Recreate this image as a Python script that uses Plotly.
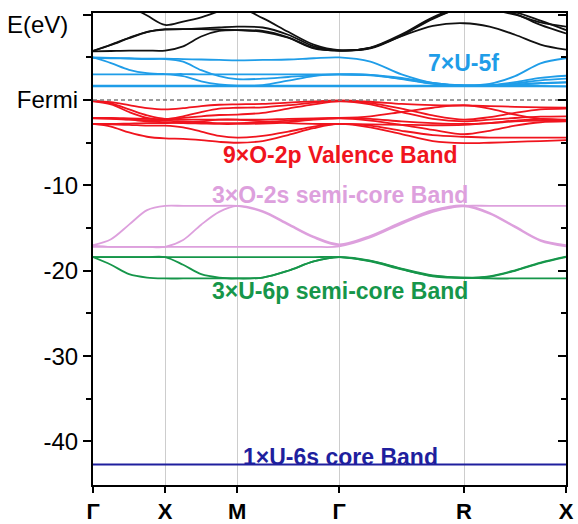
import plotly.graph_objects as go

# ---- k-path (simple cubic Brillouin zone) ----
path_labels = ["Γ", "X", "M", "Γ", "R", "X"]
segment_lengths = [0.5, 0.5, 0.7071, 0.8660, 0.7071]
samples_per_segment = 4

# ---- band energies (eV) at 21 k-points: Γ ... X ... M ... Γ ... R ... X ----
# conduction bands above the 5f manifold
black_1 = [5.7, 5.75, 5.8, 5.8, 5.8, 6.3, 7.45, 8.1, 8.2, 8.1, 7.35, 6.1, 5.8, 6.1, 7.5, 8.7, 9.0, 8.6, 7.65, 6.5, 5.9]
black_2 = [5.75, 6.5, 7.3, 8.0, 8.25, 8.3, 8.4, 8.5, 8.6, 8.5, 7.65, 6.3, 5.8, 6.1, 7.6, 9.6, 10.8, 10.6, 10.0, 9.1, 8.6]
black_3 = [5.75, 6.45, 7.25, 7.95, 8.3, 8.3, 8.3, 8.25, 8.2, 8.0, 7.3, 6.05, 5.8, 6.05, 7.55, 9.5, 10.9, 10.8, 10.3, 9.3, 8.2]
black_4 = [12.0, 11.6, 11.0, 9.9, 8.8, 9.2, 9.7, 10.4, 10.9, 9.6, 8.0, 6.5, 5.85, 6.15, 7.7, 9.7, 11.0, 10.7, 10.1, 8.8, 7.8]

# U-5f bands
f_1 = [5.0, 4.95, 4.9, 4.85, 4.85, 4.8, 4.75, 4.7, 4.65, 4.7, 4.75, 4.9, 5.0, 4.5, 3.0, 2.0, 1.75, 1.9, 2.8, 4.3, 4.9]
f_2 = [5.0, 4.33, 3.55, 3.15, 3.05, 3.05, 3.0, 3.0, 3.0, 3.0, 3.0, 3.0, 3.0, 2.9, 2.5, 1.95, 1.7, 1.75, 2.1, 2.6, 2.85]
f_3 = [3.0, 3.0, 3.0, 3.0, 3.0, 2.8, 2.2, 1.85, 1.7, 1.75, 2.27, 2.8, 3.0, 2.95, 2.45, 1.9, 1.7, 1.7, 1.95, 2.3, 2.5]
f_4 = [4.95, 4.9, 4.85, 4.8, 4.8, 4.5, 3.5, 2.8, 2.45, 2.5, 2.7, 2.9, 3.0, 2.95, 2.6, 2.0, 1.65, 1.65, 1.8, 2.0, 2.1]
f_5 = [1.7, 1.7, 1.7, 1.7, 1.7, 1.7, 1.7, 1.7, 1.7, 1.7, 1.7, 1.7, 1.7, 1.7, 1.7, 1.7, 1.7, 1.7, 1.7, 1.65, 1.6]
f_6 = [1.65, 1.65, 1.65, 1.65, 1.65, 1.65, 1.65, 1.65, 1.65, 1.65, 1.65, 1.65, 1.65, 1.65, 1.65, 1.65, 1.65, 1.7, 1.8, 1.95, 2.05]
f_7 = [1.6, 1.6, 1.6, 1.6, 1.6, 1.6, 1.6, 1.6, 1.6, 1.6, 1.6, 1.6, 1.6, 1.6, 1.6, 1.6, 1.6, 1.6, 1.6, 1.6, 1.6]

# O-2p valence bands
p_1 = [-0.1, -0.25, -0.6, -0.95, -1.1, -0.95, -0.7, -0.55, -0.5, -0.45, -0.3, -0.15, -0.05, -0.2, -0.45, -0.6, -0.65, -0.7, -0.8, -0.85, -0.9]
p_2 = [-0.1, -0.4, -1.1, -1.8, -2.2, -1.9, -1.4, -1.0, -0.9, -0.85, -0.6, -0.3, -0.1, -0.35, -1.0, -1.8, -2.3, -2.0, -1.5, -1.1, -1.0]
p_3 = [-0.15, -0.5, -1.4, -2.1, -2.35, -2.1, -1.9, -1.75, -1.7, -1.5, -1.0, -0.5, -0.15, -0.5, -1.4, -2.2, -2.5, -2.3, -2.1, -1.95, -1.9]
p_4 = [-2.1, -2.1, -2.15, -2.2, -2.25, -2.3, -2.3, -2.3, -2.3, -2.3, -2.2, -2.15, -2.1, -1.9, -1.4, -0.9, -0.6, -1.0, -1.7, -2.2, -2.35]
p_5 = [-2.1, -2.15, -2.25, -2.35, -2.4, -2.5, -2.6, -2.7, -2.7, -2.6, -2.4, -2.2, -2.1, -2.2, -2.5, -2.7, -2.8, -2.7, -2.5, -2.4, -2.4]
p_6 = [-2.15, -2.2, -2.3, -2.5, -2.6, -2.7, -2.75, -2.8, -2.8, -2.75, -2.6, -2.3, -2.15, -2.4, -2.9, -3.5, -4.0, -3.6, -3.0, -2.6, -2.5]
p_7 = [-2.8, -2.8, -2.75, -2.7, -2.7, -2.6, -2.5, -2.3, -2.3, -2.5, -2.7, -2.8, -2.8, -2.85, -2.9, -2.95, -2.9, -2.7, -2.4, -2.2, -2.3]
p_8 = [-2.8, -2.85, -2.9, -3.0, -3.0, -3.2, -3.7, -4.2, -4.4, -4.2, -3.7, -3.1, -2.8, -3.0, -3.6, -4.1, -4.3, -4.4, -4.4, -4.4, -4.4]
p_9 = [-2.8, -3.1, -3.8, -4.3, -4.5, -4.55, -4.7, -4.9, -5.0, -4.8, -4.1, -3.3, -2.8, -3.2, -4.0, -4.8, -5.05, -5.0, -4.9, -4.8, -4.7]

# O-2s semi-core bands
s_1 = [-17.0, -16.3, -14.6, -12.9, -12.4, -12.4, -12.4, -12.4, -12.4, -13.1, -14.6, -16.1, -17.0, -16.0, -14.4, -13.0, -12.4, -12.4, -12.4, -12.4, -12.4]
s_2 = [-17.05, -17.2, -17.2, -17.2, -17.2, -16.4, -14.6, -13.1, -12.4, -13.0, -14.5, -16.0, -16.9, -15.9, -14.3, -12.9, -12.35, -13.2, -14.8, -16.4, -17.0]
s_3 = [-17.2, -17.2, -17.2, -17.2, -17.2, -17.2, -17.2, -17.2, -17.2, -17.2, -17.2, -17.2, -17.15, -16.1, -14.5, -13.1, -12.45, -13.3, -14.9, -16.5, -17.15]

# U-6p semi-core bands
u_1 = [-18.4, -18.4, -18.4, -18.4, -18.4, -18.4, -18.4, -18.4, -18.4, -18.4, -18.4, -18.4, -18.4, -18.85, -19.8, -20.6, -20.8, -20.9, -20.9, -20.9, -20.9]
u_2 = [-18.4, -19.3, -20.4, -20.8, -20.9, -20.9, -20.9, -20.9, -20.9, -20.8, -20.0, -18.9, -18.4, -18.9, -19.85, -20.65, -20.85, -20.7, -20.0, -19.1, -18.4]
u_3 = [-18.4, -18.4, -18.4, -18.4, -18.4, -19.3, -20.4, -20.8, -20.9, -20.8, -20.0, -18.9, -18.4, -18.8, -19.75, -20.55, -20.8, -20.65, -19.95, -19.05, -18.35]

# U-6s core band
core_1 = [-42.7] * 21

band_groups = [
    ([black_1, black_2, black_3, black_4], "#111111"),
    ([f_1, f_2, f_3, f_4, f_5, f_6, f_7], "#1f9de8"),
    ([p_1, p_2, p_3, p_4, p_5, p_6, p_7, p_8, p_9], "#f0141e"),
    ([s_1, s_2, s_3], "#dda0dd"),
    ([u_1, u_2, u_3], "#16964a"),
    ([core_1], "#1f1f9e"),
]

group_labels = [
    ("7×U-5f", 2.57, 4.3, "#1f9de8"),
    ("9×O-2p Valence Band", 1.715, -6.45, "#f0141e"),
    ("3×O-2s semi-core Band", 1.715, -11.1, "#dda0dd"),
    ("3×U-6p semi-core Band", 1.715, -22.4, "#16964a"),
    ("1×U-6s core Band", 1.715, -41.8, "#1f1f9e"),
]

# ---- k-axis coordinates ----
sym_pos = [0.0]
for L in segment_lengths:
    sym_pos.append(sym_pos[-1] + L)
k = []
for i, L in enumerate(segment_lengths):
    for j in range(samples_per_segment):
        k.append(sym_pos[i] + L * j / samples_per_segment)
k.append(sym_pos[-1])

FONT = "Liberation Sans, Arial, sans-serif"

fig = go.Figure()
for bands, color in band_groups:
    for e in bands:
        fig.add_trace(go.Scatter(
            x=k, y=e, mode="lines",
            line=dict(color=color, width=1.8, shape="spline", smoothing=0.9),
            showlegend=False, hoverinfo="skip"))

# Fermi level reference
fig.add_trace(go.Scatter(
    x=[sym_pos[0], sym_pos[-1]], y=[0, 0], mode="lines", yaxis="y2",
    line=dict(color="#7a7a7a", width=1.5, dash="4px,3px"),
    showlegend=False, hoverinfo="skip"))

for text, x, y, color in group_labels:
    fig.add_annotation(x=x, y=y, text=f"<b>{text}</b>", showarrow=False,
                       font=dict(family=FONT, size=23, color=color),
                       xanchor="center", yanchor="middle")

fig.add_annotation(xref="paper", yref="y", x=-0.186, y=8.9, text="E(eV)",
                   showarrow=False, xanchor="left", yanchor="middle",
                   font=dict(family=FONT, size=24, color="black"))

yrange = [-45.1, 10.2]
major = [10, 0, -10, -20, -30, -40]
minor = [5, -5, -15, -25, -35]

fig.update_layout(
    width=578, height=524,
    margin=dict(l=93, r=12, t=13, b=39, autoexpand=False),
    plot_bgcolor="white", paper_bgcolor="white",
    xaxis=dict(
        range=[sym_pos[0], sym_pos[-1]], automargin=False,
        tickmode="array", tickvals=sym_pos,
        ticktext=[f"<b>{s}</b>" for s in path_labels],
        tickfont=dict(family=FONT, size=22, color="black"),
        ticks="outside", ticklen=6, tickwidth=2, tickcolor="black",
        ticklabelstandoff=0,
        showline=True, linecolor="black", linewidth=2, mirror=True,
        showgrid=True, gridcolor="#cdcdcd", gridwidth=1, zeroline=False,
    ),
    yaxis=dict(
        range=yrange, automargin=False,
        tickmode="array", tickvals=major,
        ticktext=["", "Fermi", "-10", "-20", "-30", "-40"],
        tickfont=dict(family=FONT, size=24, color="black"),
        ticks="outside", ticklen=8, tickwidth=2, tickcolor="black",
        minor=dict(tickmode="array", tickvals=minor, ticks="outside",
                   ticklen=5, tickwidth=2, tickcolor="black", showgrid=False),
        showline=True, linecolor="black", linewidth=2, mirror=True,
        showgrid=False, zeroline=False,
    ),
    yaxis2=dict(
        range=yrange, overlaying="y", side="right", automargin=False,
        tickmode="array", tickvals=major, showticklabels=False,
        ticks="inside", ticklen=8, tickwidth=2, tickcolor="black",
        minor=dict(tickmode="array", tickvals=minor, ticks="inside",
                   ticklen=5, tickwidth=2, tickcolor="black", showgrid=False),
        showline=False, showgrid=False, zeroline=False,
    ),
)

fig.write_html("out.html")
